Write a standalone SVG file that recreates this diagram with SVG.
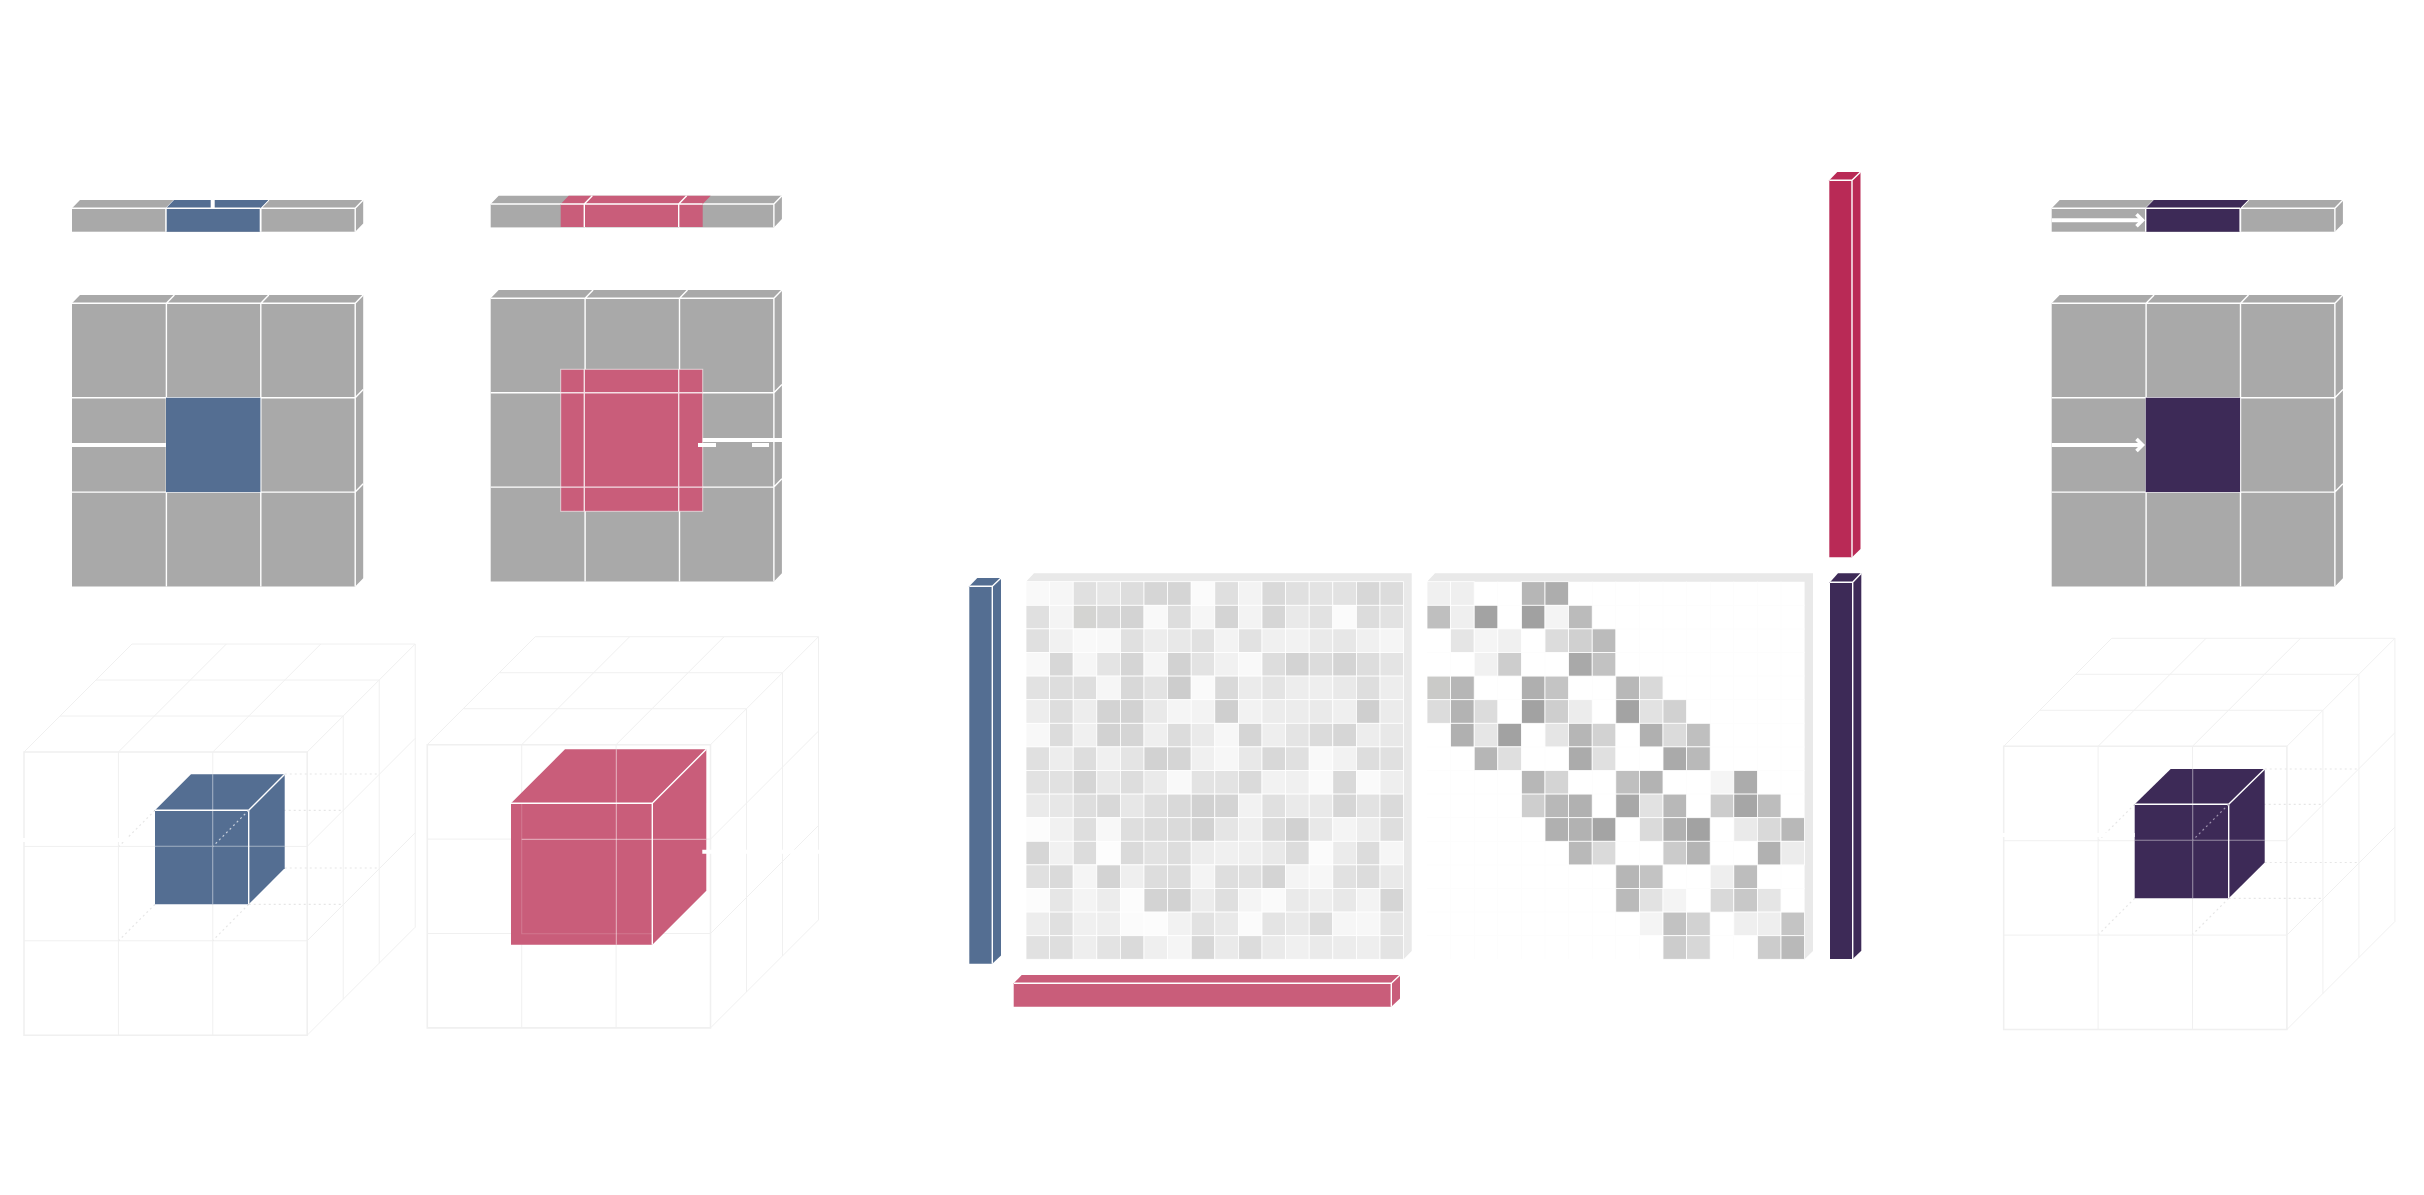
<svg xmlns="http://www.w3.org/2000/svg" width="2424" height="1195" viewBox="0 0 2424 1195">
<style>
.g{fill:#a9a9a9}.w{stroke:#fff;stroke-width:1.4;fill:none}.e{stroke:#f0f0f0;stroke-width:1;fill:none}.t{stroke:#f0f0f0;stroke-width:1.6;fill:none}
.d{stroke:#e6e6e6;stroke-width:1.2;fill:none;stroke-dasharray:2 3}
.c{width:23.6px;height:23.6px;stroke:#fff;stroke-width:.8}.s{fill:#e9e9e9}
.o{stroke:#fff;stroke-width:1;fill:none;stroke-opacity:.55}.o2{stroke:#fff;stroke-width:1.1;fill:none;stroke-opacity:.45}.o3{stroke:#fff;stroke-width:1.1;fill:none;stroke-opacity:.16}
.bl{fill:#546e92}.pk{fill:#c95d7a}.dk{fill:#3d2a57}.cr{fill:#b92a56}
.wl{stroke:#fff;stroke-width:4;fill:none}
</style>
<defs>
<marker id="chev" markerUnits="userSpaceOnUse" markerWidth="12" markerHeight="18" refX="8" refY="8" orient="auto"><path d="M1.500 2L7.500 8L1.500 14" fill="none" stroke="#fff" stroke-width="3.600"/></marker>
<g id="grid3"><rect class="g" width="283.2" height="283.2"/><path class="g" d="M0 0L8 -8.300H291.200L283.200 0ZM283.200 0L291.200 -8.300V274.900L283.200 283.200Z"/><path class="w" d="M0 0H283.200V283.200M94.400 0V283.200M188.800 0V283.200M0 94.400H283.200M0 188.800H283.200M94.400 0L102.400 -8.300M188.800 0L196.800 -8.300M283.200 0L291.200 -8.300M283.200 94.400L291.200 86.100M283.200 188.800L291.200 180.500"/></g>
<g id="bar3"><rect class="g" width="283.2" height="23.4"/><path class="g" d="M0 0L8 -8.300H291.200L283.200 0ZM283.200 0L291.200 -8.300V15.100L283.200 23.400Z"/><path class="w" d="M0 0H283.200V23.400M94.400 0V23.400M188.800 0V23.400M94.400 0L102.400 -8.300M188.800 0L196.800 -8.300M283.200 0L291.200 -8.300"/></g>
<g id="wire"><path class="e" d="M94.400 0V283.200M188.800 0V283.200M0 94.400H283.200M0 188.800H283.200M94.400 0L202.400 -108M188.800 0L296.800 -108M283.200 94.400L391.200 -13.600M283.200 188.800L391.200 80.800M0 0L108 -108M283.200 0L391.200 -108M283.200 283.200L391.200 175.200M108 -108H391.200V175.200M72 -72H355.200V211.200M36 -36H319.200V247.200"/><path class="t" d="M0 0H283.200V283.200H0Z"/></g>
</defs>
<rect width="2424" height="1195" fill="#fff"/>

<g id="flat-blue">
<use href="#bar3" x="72" y="208.3"/>
<path class="bl" d="M166 208.300L174 200H268.400L260.400 208.300ZM166 208.300H260.400V231.700H166Z"/>
<path class="w" d="M166 208.300H260.400M166 208.300V231.700M260.400 208.300V231.700"/>
<use href="#grid3" x="72" y="303.3"/>
<rect class="bl" x="166" y="397.7" width="94.4" height="94.4"/>
</g>
<g id="flat-pink">
<use href="#bar3" x="490.7" y="204"/>
<path class="pk" d="M560.700 204L568.700 195.700H710.700L702.700 204ZM560.700 204H702.700V227H560.700Z"/>
<path class="w" d="M560.700 204H702.700M584.300 204V227M678.700 204V227M584.300 204L592.300 195.700M678.700 204L686.700 195.700"/>
<use href="#grid3" x="490.7" y="298.3"/>
<rect class="pk" x="560.7" y="369.3" width="142" height="142" stroke="#fff" stroke-opacity=".6"/>
<path class="w" d="M584.300 369.300V511.300M678.700 369.300V511.300M560.700 392.700H702.700M560.700 487.100H702.700" stroke-opacity=".8"/>
</g>
<g id="flat-purple">
<use href="#bar3" x="2051.7" y="208.3"/>
<path class="dk" d="M2145.700 208.300L2153.700 200H2248.100L2240.100 208.300ZM2145.700 208.300H2240.100V231.700H2145.700Z"/>
<path class="w" d="M2145.700 208.300H2240.100M2145.700 208.300V231.700M2240.100 208.300V231.700"/>
<use href="#grid3" x="2051.7" y="303.3"/>
<rect class="dk" x="2145.7" y="397.7" width="94.4" height="94.4"/>
</g>

<g id="cube-blue">
<use href="#wire" x="24" y="752"/>
<path class="d" d="M284.700 774H379M248.700 810.300H343M284.700 868H379M248.700 904.300H343M155 810.300L119 846.300M155 904.300L119 940.300M248.700 904.300L213 940.300"/>
<path class="bl" d="M155 810.300L191 774.300H284.700V868.300L248.700 904.300H155Z"/>
<path class="w" d="M155 810.300H248.700V904.300M248.700 810.300L284.700 774.300"/>
<path class="o2" d="M212.700 774.300V904.300M155 846.300H284.700"/>
<path d="M248.700 810.300L213 846.300" fill="none" stroke="#c8d0dc" stroke-width="1.2" stroke-dasharray="2 3"/>
</g>
<g id="cube-pink">
<use href="#wire" x="427.3" y="744.7"/>
<path class="pk" d="M511 803.300L565 749.300H706.300V890.700L652.300 944.700H511Z"/>
<path class="w" d="M511 803.300H652.300V944.700M652.300 803.300L706.300 749.300"/>
<path class="o" d="M616.300 749.300V944.700M521.700 839.300H706.300"/>
<path class="o3" d="M521.700 803.300V933.700H652.300"/>
</g>
<g id="cube-purple">
<use href="#wire" x="2003.7" y="746.3"/>
<path class="d" d="M2264.700 769H2359M2228.700 804.300H2323M2264.700 862.500H2359M2228.700 898.300H2323M2134.700 804.300L2098.700 840.300M2134.700 898.300L2098.700 934.300M2228.700 898.300L2192.700 934.300"/>
<path class="dk" d="M2134.700 804.300L2170.700 769H2264.700V862.500L2228.700 898.300H2134.700Z"/>
<path class="w" d="M2134.700 804.300H2228.700V898.300M2228.700 804.300L2264.700 769"/>
<path class="o2" d="M2192.700 769V898.300M2134.700 840.300H2264.700"/>
<path d="M2228.700 804.300L2192.700 840.300" fill="none" stroke="#9c90ac" stroke-width="1.2" stroke-dasharray="2 3"/>
</g>

<g id="vector-blue"><path class="bl" d="M969.300 586.300L977.300 578H1001V955.400L992.300 963.700H969.300Z"/><path class="w" d="M969.300 586.300H992.300V963.700M992.300 586.300L1001 578"/></g>
<g id="vector-pink"><path class="pk" d="M1013.700 983.300L1021.700 975H1400V998.400L1391.300 1006.700H1013.700Z"/><path class="w" d="M1013.700 983.300H1391.300V1006.700M1391.300 983.300L1400 975"/></g>
<g id="vector-crimson"><path class="cr" d="M1829.300 180.300L1837.300 172H1860.500V549L1852 557.300H1829.300Z"/><path class="w" d="M1829.300 180.300H1852V557.300M1852 180.300L1860.500 172"/></g>
<g id="vector-purple"><path class="dk" d="M1830 582.300L1838 573.300H1861.300V950.700L1852.700 959H1830Z"/><path class="w" d="M1830 582.300H1852.700V959M1852.700 582.300L1861.300 573.300"/></g>

<g id="matrix-dense">
<path class="s" d="M1026 581.700L1034 573.300H1411.700V951L1403.600 959.300V581.700Z"/>
<g transform="translate(0 581.7)"><rect class="c" x="1026" fill="#f9f9f9"/><rect class="c" x="1049.6" fill="#f6f6f6"/><rect class="c" x="1073.2" fill="#e0e0e0"/><rect class="c" x="1096.8" fill="#e6e6e6"/><rect class="c" x="1120.4" fill="#ddd"/><rect class="c" x="1144" fill="#d6d6d6"/><rect class="c" x="1167.6" fill="#d5d5d5"/><rect class="c" x="1191.2" fill="#fbfbfb"/><rect class="c" x="1214.8" fill="#dfdfdf"/><rect class="c" x="1238.4" fill="#f3f3f3"/><rect class="c" x="1262" fill="#d9d9d9"/><rect class="c" x="1285.6" fill="#e0e0e0"/><rect class="c" x="1309.2" fill="#e3e3e3"/><rect class="c" x="1332.8" fill="#e2e2e2"/><rect class="c" x="1356.4" fill="#d7d7d7"/><rect class="c" x="1380" fill="#dcdcdc"/></g>
<g transform="translate(0 605.3)"><rect class="c" x="1026" fill="#e0e0e0"/><rect class="c" x="1049.6" fill="#f4f4f4"/><rect class="c" x="1073.2" fill="#d4d4d2"/><rect class="c" x="1096.8" fill="#d8d8d8"/><rect class="c" x="1120.4" fill="#d3d3d3"/><rect class="c" x="1144" fill="#f9f9f9"/><rect class="c" x="1167.6" fill="#ddd"/><rect class="c" x="1191.2" fill="#f6f6f6"/><rect class="c" x="1214.8" fill="#d4d4d4"/><rect class="c" x="1238.4" fill="#f3f3f3"/><rect class="c" x="1262" fill="#d6d6d6"/><rect class="c" x="1285.6" fill="#e9e9e9"/><rect class="c" x="1309.2" fill="#e2e2e2"/><rect class="c" x="1332.8" fill="#fbfbfb"/><rect class="c" x="1356.4" fill="#dcdcdc"/><rect class="c" x="1380" fill="#e2e2e2"/></g>
<g transform="translate(0 628.9)"><rect class="c" x="1026" fill="#e0e0e0"/><rect class="c" x="1049.6" fill="#f1f1f1"/><rect class="c" x="1073.2" fill="#f9f9f9"/><rect class="c" x="1096.8" fill="#f8f8f8"/><rect class="c" x="1120.4" fill="#e0e0e0"/><rect class="c" x="1144" fill="#ededed"/><rect class="c" x="1167.6" fill="#e8e8e8"/><rect class="c" x="1191.2" fill="#e1e1e1"/><rect class="c" x="1214.8" fill="#f3f3f3"/><rect class="c" x="1238.4" fill="#e2e2e2"/><rect class="c" x="1262" fill="#f0f0f0"/><rect class="c" x="1285.6" fill="#f2f2f2"/><rect class="c" x="1309.2" fill="#eaeaea"/><rect class="c" x="1332.8" fill="#e7e7e7"/><rect class="c" x="1356.4" fill="#f0f0f0"/><rect class="c" x="1380" fill="#f5f5f5"/></g>
<g transform="translate(0 652.5)"><rect class="c" x="1026" fill="#f8f8f8"/><rect class="c" x="1049.6" fill="#d7d7d7"/><rect class="c" x="1073.2" fill="#f6f6f6"/><rect class="c" x="1096.8" fill="#e4e4e4"/><rect class="c" x="1120.4" fill="#d5d5d5"/><rect class="c" x="1144" fill="#f5f5f5"/><rect class="c" x="1167.6" fill="#d2d2d2"/><rect class="c" x="1191.2" fill="#e3e3e3"/><rect class="c" x="1214.8" fill="#f1f1f1"/><rect class="c" x="1238.4" fill="#f9f9f9"/><rect class="c" x="1262" fill="#ddd"/><rect class="c" x="1285.6" fill="#d3d3d3"/><rect class="c" x="1309.2" fill="#dcdcdc"/><rect class="c" x="1332.8" fill="#d4d4d4"/><rect class="c" x="1356.4" fill="#ddd"/><rect class="c" x="1380" fill="#e4e4e4"/></g>
<g transform="translate(0 676.1)"><rect class="c" x="1026" fill="#e2e2e2"/><rect class="c" x="1049.6" fill="#ddd"/><rect class="c" x="1073.2" fill="#dedede"/><rect class="c" x="1096.8" fill="#f6f6f6"/><rect class="c" x="1120.4" fill="#d8d8d8"/><rect class="c" x="1144" fill="#e3e3e3"/><rect class="c" x="1167.6" fill="#cdcdcd"/><rect class="c" x="1191.2" fill="#fafafa"/><rect class="c" x="1214.8" fill="#d9d9d9"/><rect class="c" x="1238.4" fill="#ebebeb"/><rect class="c" x="1262" fill="#e4e4e4"/><rect class="c" x="1285.6" fill="#ededed"/><rect class="c" x="1309.2" fill="#eee"/><rect class="c" x="1332.8" fill="#e9e9e9"/><rect class="c" x="1356.4" fill="#dedede"/><rect class="c" x="1380" fill="#ededed"/></g>
<g transform="translate(0 699.7)"><rect class="c" x="1026" fill="#ededed"/><rect class="c" x="1049.6" fill="#ddd"/><rect class="c" x="1073.2" fill="#ededed"/><rect class="c" x="1096.8" fill="#d3d3d3"/><rect class="c" x="1120.4" fill="#d2d2d2"/><rect class="c" x="1144" fill="#e9e9e9"/><rect class="c" x="1167.6" fill="#f5f5f5"/><rect class="c" x="1191.2" fill="#f3f3f3"/><rect class="c" x="1214.8" fill="#cfcfcf"/><rect class="c" x="1238.4" fill="#f2f2f2"/><rect class="c" x="1262" fill="#ececec"/><rect class="c" x="1285.6" fill="#ececec"/><rect class="c" x="1309.2" fill="#eaeaea"/><rect class="c" x="1332.8" fill="#efefef"/><rect class="c" x="1356.4" fill="#cfcfcf"/><rect class="c" x="1380" fill="#ebebeb"/></g>
<g transform="translate(0 723.3)"><rect class="c" x="1026" fill="#f8f8f8"/><rect class="c" x="1049.6" fill="#dcdcdc"/><rect class="c" x="1073.2" fill="#f0f0f0"/><rect class="c" x="1096.8" fill="#d2d2d2"/><rect class="c" x="1120.4" fill="#d5d5d5"/><rect class="c" x="1144" fill="#efefef"/><rect class="c" x="1167.6" fill="#dcdcdc"/><rect class="c" x="1191.2" fill="#eaeaea"/><rect class="c" x="1214.8" fill="#f7f7f7"/><rect class="c" x="1238.4" fill="#d5d5d5"/><rect class="c" x="1262" fill="#eee"/><rect class="c" x="1285.6" fill="#e4e4e4"/><rect class="c" x="1309.2" fill="#dbdbdb"/><rect class="c" x="1332.8" fill="#d6d6d6"/><rect class="c" x="1356.4" fill="#ededed"/><rect class="c" x="1380" fill="#e8e8e8"/></g>
<g transform="translate(0 746.9)"><rect class="c" x="1026" fill="#e0e0e0"/><rect class="c" x="1049.6" fill="#ededed"/><rect class="c" x="1073.2" fill="#ddd"/><rect class="c" x="1096.8" fill="#f0f0f0"/><rect class="c" x="1120.4" fill="#e4e4e4"/><rect class="c" x="1144" fill="#d2d2d2"/><rect class="c" x="1167.6" fill="#d5d5d5"/><rect class="c" x="1191.2" fill="#f0f0f0"/><rect class="c" x="1214.8" fill="#f7f7f7"/><rect class="c" x="1238.4" fill="#e8e8e8"/><rect class="c" x="1262" fill="#d8d8d8"/><rect class="c" x="1285.6" fill="#e0e0e0"/><rect class="c" x="1309.2" fill="#f9f9f9"/><rect class="c" x="1332.8" fill="#f2f2f2"/><rect class="c" x="1356.4" fill="#ddd"/><rect class="c" x="1380" fill="#e0e0e0"/></g>
<g transform="translate(0 770.5)"><rect class="c" x="1026" fill="#e2e2e2"/><rect class="c" x="1049.6" fill="#e1e1e1"/><rect class="c" x="1073.2" fill="#d5d5d5"/><rect class="c" x="1096.8" fill="#e8e8e8"/><rect class="c" x="1120.4" fill="#ddd"/><rect class="c" x="1144" fill="#eaeaea"/><rect class="c" x="1167.6" fill="#f9f9f9"/><rect class="c" x="1191.2" fill="#e3e3e3"/><rect class="c" x="1214.8" fill="#e3e3e3"/><rect class="c" x="1238.4" fill="#dadada"/><rect class="c" x="1262" fill="#f2f2f2"/><rect class="c" x="1285.6" fill="#f0f0f0"/><rect class="c" x="1309.2" fill="#fafafa"/><rect class="c" x="1332.8" fill="#d9d9d9"/><rect class="c" x="1356.4" fill="#fafafa"/><rect class="c" x="1380" fill="#eee"/></g>
<g transform="translate(0 794.1)"><rect class="c" x="1026" fill="#eaeaea"/><rect class="c" x="1049.6" fill="#e7e7e7"/><rect class="c" x="1073.2" fill="#dedede"/><rect class="c" x="1096.8" fill="#d8d8d8"/><rect class="c" x="1120.4" fill="#e7e7e7"/><rect class="c" x="1144" fill="#dedede"/><rect class="c" x="1167.6" fill="#d9d9d9"/><rect class="c" x="1191.2" fill="#d1d1d1"/><rect class="c" x="1214.8" fill="#d4d4d4"/><rect class="c" x="1238.4" fill="#f2f2f2"/><rect class="c" x="1262" fill="#e0e0e0"/><rect class="c" x="1285.6" fill="#eaeaea"/><rect class="c" x="1309.2" fill="#e9e9e9"/><rect class="c" x="1332.8" fill="#d6d6d6"/><rect class="c" x="1356.4" fill="#e2e2e2"/><rect class="c" x="1380" fill="#dadada"/></g>
<g transform="translate(0 817.7)"><rect class="c" x="1026" fill="#fcfcfc"/><rect class="c" x="1049.6" fill="#f1f1f1"/><rect class="c" x="1073.2" fill="#dedede"/><rect class="c" x="1096.8" fill="#f8f8f8"/><rect class="c" x="1120.4" fill="#dedede"/><rect class="c" x="1144" fill="#dcdcdc"/><rect class="c" x="1167.6" fill="#dadada"/><rect class="c" x="1191.2" fill="#d2d2d2"/><rect class="c" x="1214.8" fill="#e5e5e5"/><rect class="c" x="1238.4" fill="#eee"/><rect class="c" x="1262" fill="#dbdbdb"/><rect class="c" x="1285.6" fill="#d1d1d1"/><rect class="c" x="1309.2" fill="#e8e8e8"/><rect class="c" x="1332.8" fill="#f4f4f4"/><rect class="c" x="1356.4" fill="#ededed"/><rect class="c" x="1380" fill="#dedede"/></g>
<g transform="translate(0 841.3)"><rect class="c" x="1026" fill="#d6d6d6"/><rect class="c" x="1049.6" fill="#f1f1f1"/><rect class="c" x="1073.2" fill="#dcdcdc"/><rect class="c" x="1096.8" fill="#fdfdfd"/><rect class="c" x="1120.4" fill="#dadada"/><rect class="c" x="1144" fill="#e2e2e2"/><rect class="c" x="1167.6" fill="#ddd"/><rect class="c" x="1191.2" fill="#ededed"/><rect class="c" x="1214.8" fill="#f0f0f0"/><rect class="c" x="1238.4" fill="#efefef"/><rect class="c" x="1262" fill="#e9e9e9"/><rect class="c" x="1285.6" fill="#dcdcdc"/><rect class="c" x="1309.2" fill="#fbfbfb"/><rect class="c" x="1332.8" fill="#ebebeb"/><rect class="c" x="1356.4" fill="#dcdcdc"/><rect class="c" x="1380" fill="#f6f6f6"/></g>
<g transform="translate(0 864.9)"><rect class="c" x="1026" fill="#e0e0e0"/><rect class="c" x="1049.6" fill="#dadada"/><rect class="c" x="1073.2" fill="#f5f5f5"/><rect class="c" x="1096.8" fill="#d3d3d3"/><rect class="c" x="1120.4" fill="#efefef"/><rect class="c" x="1144" fill="#ddd"/><rect class="c" x="1167.6" fill="#dcdcdc"/><rect class="c" x="1191.2" fill="#f4f4f4"/><rect class="c" x="1214.8" fill="#dedede"/><rect class="c" x="1238.4" fill="#e0e0e0"/><rect class="c" x="1262" fill="#d4d4d4"/><rect class="c" x="1285.6" fill="#f4f4f4"/><rect class="c" x="1309.2" fill="#f7f7f7"/><rect class="c" x="1332.8" fill="#e1e1e1"/><rect class="c" x="1356.4" fill="#dcdcdc"/><rect class="c" x="1380" fill="#e9e9e9"/></g>
<g transform="translate(0 888.5)"><rect class="c" x="1026" fill="#fcfcfc"/><rect class="c" x="1049.6" fill="#e6e6e6"/><rect class="c" x="1073.2" fill="#f4f4f4"/><rect class="c" x="1096.8" fill="#ececec"/><rect class="c" x="1120.4" fill="#fcfcfc"/><rect class="c" x="1144" fill="#d3d3d3"/><rect class="c" x="1167.6" fill="#d2d2d2"/><rect class="c" x="1191.2" fill="#ececec"/><rect class="c" x="1214.8" fill="#dfdfdf"/><rect class="c" x="1238.4" fill="#f4f4f4"/><rect class="c" x="1262" fill="#fafafa"/><rect class="c" x="1285.6" fill="#eaeaea"/><rect class="c" x="1309.2" fill="#eee"/><rect class="c" x="1332.8" fill="#e8e8e8"/><rect class="c" x="1356.4" fill="#f3f3f3"/><rect class="c" x="1380" fill="#d5d5d5"/></g>
<g transform="translate(0 912.1)"><rect class="c" x="1026" fill="#ededed"/><rect class="c" x="1049.6" fill="#e0e0e0"/><rect class="c" x="1073.2" fill="#f0f0f0"/><rect class="c" x="1096.8" fill="#eee"/><rect class="c" x="1120.4" fill="#fbfbfb"/><rect class="c" x="1144" fill="#fcfcfc"/><rect class="c" x="1167.6" fill="#f2f2f2"/><rect class="c" x="1191.2" fill="#e2e2e2"/><rect class="c" x="1214.8" fill="#e9e9e9"/><rect class="c" x="1238.4" fill="#fbfbfb"/><rect class="c" x="1262" fill="#e4e4e4"/><rect class="c" x="1285.6" fill="#e9e9e9"/><rect class="c" x="1309.2" fill="#dcdcdc"/><rect class="c" x="1332.8" fill="#f6f6f6"/><rect class="c" x="1356.4" fill="#f7f7f7"/><rect class="c" x="1380" fill="#e6e6e6"/></g>
<g transform="translate(0 935.7)"><rect class="c" x="1026" fill="#e1e1e1"/><rect class="c" x="1049.6" fill="#dedede"/><rect class="c" x="1073.2" fill="#eee"/><rect class="c" x="1096.8" fill="#e3e3e3"/><rect class="c" x="1120.4" fill="#dadada"/><rect class="c" x="1144" fill="#efefef"/><rect class="c" x="1167.6" fill="#f5f5f5"/><rect class="c" x="1191.2" fill="#d7d7d7"/><rect class="c" x="1214.8" fill="#eaeaea"/><rect class="c" x="1238.4" fill="#dcdcdc"/><rect class="c" x="1262" fill="#eaeaea"/><rect class="c" x="1285.6" fill="#f0f0f0"/><rect class="c" x="1309.2" fill="#eaeaea"/><rect class="c" x="1332.8" fill="#ececec"/><rect class="c" x="1356.4" fill="#eee"/><rect class="c" x="1380" fill="#e3e3e3"/></g>
</g>

<g id="matrix-sparse">
<path class="s" d="M1427 581.700L1435 573.300H1813V951L1804.600 959.300V581.700Z"/>
<path fill="none" stroke="#fdfdfd" stroke-width="1" d="M1450.600 581.700V959.300M1474.200 581.700V959.300M1497.800 581.700V959.300M1521.400 581.700V959.300M1545 581.700V959.300M1568.600 581.700V959.300M1592.200 581.700V959.300M1615.800 581.700V959.300M1639.400 581.700V959.300M1663 581.700V959.300M1686.600 581.700V959.300M1710.200 581.700V959.300M1733.800 581.700V959.300M1757.400 581.700V959.300M1781 581.700V959.300M1427 605.300H1804.600M1427 628.900H1804.600M1427 652.500H1804.600M1427 676.100H1804.600M1427 699.700H1804.600M1427 723.300H1804.600M1427 746.900H1804.600M1427 770.500H1804.600M1427 794.100H1804.600M1427 817.700H1804.600M1427 841.300H1804.600M1427 864.900H1804.600M1427 888.500H1804.600M1427 912.100H1804.600M1427 935.700H1804.600"/>
<g transform="translate(0 581.7)"><rect class="c" x="1427" fill="#f0f0f0"/><rect class="c" x="1450.6" fill="#efefef"/><rect class="c" x="1521.4" fill="#b6b6b6"/><rect class="c" x="1545" fill="#adadad"/></g>
<g transform="translate(0 605.3)"><rect class="c" x="1427" fill="#bfbfbf"/><rect class="c" x="1450.6" fill="#efefef"/><rect class="c" x="1474.2" fill="#a3a3a3"/><rect class="c" x="1521.4" fill="#a1a1a1"/><rect class="c" x="1545" fill="#f4f4f4"/><rect class="c" x="1568.6" fill="#bbb"/></g>
<g transform="translate(0 628.9)"><rect class="c" x="1450.6" fill="#e5e5e5"/><rect class="c" x="1474.2" fill="#f5f5f5"/><rect class="c" x="1497.8" fill="#f0f0f0"/><rect class="c" x="1545" fill="#dcdcdc"/><rect class="c" x="1568.6" fill="#d0d0d0"/><rect class="c" x="1592.2" fill="#bbb"/></g>
<g transform="translate(0 652.5)"><rect class="c" x="1474.2" fill="#f1f1f1"/><rect class="c" x="1497.8" fill="#cdcdcd"/><rect class="c" x="1568.6" fill="#a9a9a9"/><rect class="c" x="1592.2" fill="#c2c2c2"/></g>
<g transform="translate(0 676.1)"><rect class="c" x="1427" fill="#cacac8"/><rect class="c" x="1450.6" fill="#b6b6b6"/><rect class="c" x="1521.4" fill="#afafaf"/><rect class="c" x="1545" fill="#c4c4c4"/><rect class="c" x="1615.8" fill="#b8b8b8"/><rect class="c" x="1639.4" fill="#d9d9d9"/></g>
<g transform="translate(0 699.7)"><rect class="c" x="1427" fill="#dcdcdc"/><rect class="c" x="1450.6" fill="#b3b3b3"/><rect class="c" x="1474.2" fill="#dcdcdc"/><rect class="c" x="1521.4" fill="#a2a2a2"/><rect class="c" x="1545" fill="#cecece"/><rect class="c" x="1568.6" fill="#ececec"/><rect class="c" x="1615.8" fill="#a3a3a3"/><rect class="c" x="1639.4" fill="#e2e2e2"/><rect class="c" x="1663" fill="#d1d1d1"/></g>
<g transform="translate(0 723.3)"><rect class="c" x="1450.6" fill="#b0b0b0"/><rect class="c" x="1474.2" fill="#e6e6e6"/><rect class="c" x="1497.8" fill="#a2a2a2"/><rect class="c" x="1545" fill="#e5e5e5"/><rect class="c" x="1568.6" fill="#b6b6b6"/><rect class="c" x="1592.2" fill="#d2d2d2"/><rect class="c" x="1639.4" fill="#b0b0b0"/><rect class="c" x="1663" fill="#dbdbdb"/><rect class="c" x="1686.6" fill="#bfbfbf"/></g>
<g transform="translate(0 746.9)"><rect class="c" x="1474.2" fill="#b6b6b6"/><rect class="c" x="1497.8" fill="#dfdfdf"/><rect class="c" x="1568.6" fill="#ababab"/><rect class="c" x="1592.2" fill="#e0e0e0"/><rect class="c" x="1663" fill="#aaa"/><rect class="c" x="1686.6" fill="#b9b9b9"/></g>
<g transform="translate(0 770.5)"><rect class="c" x="1521.4" fill="#b7b7b7"/><rect class="c" x="1545" fill="#d4d4d4"/><rect class="c" x="1615.8" fill="#bfbfbf"/><rect class="c" x="1639.4" fill="#b3b3b3"/><rect class="c" x="1710.2" fill="#f5f5f5"/><rect class="c" x="1733.8" fill="#acacac"/></g>
<g transform="translate(0 794.1)"><rect class="c" x="1521.4" fill="#cecece"/><rect class="c" x="1545" fill="#b8b8b8"/><rect class="c" x="1568.6" fill="#b1b1b1"/><rect class="c" x="1615.8" fill="#a8a8a8"/><rect class="c" x="1639.4" fill="#e2e2e2"/><rect class="c" x="1663" fill="#b8b8b8"/><rect class="c" x="1710.2" fill="#ccc"/><rect class="c" x="1733.8" fill="#a6a6a6"/><rect class="c" x="1757.4" fill="#bdbdbd"/></g>
<g transform="translate(0 817.7)"><rect class="c" x="1545" fill="#b0b0b0"/><rect class="c" x="1568.6" fill="#b2b2b2"/><rect class="c" x="1592.2" fill="#a4a4a4"/><rect class="c" x="1639.4" fill="#dadada"/><rect class="c" x="1663" fill="#b1b1b1"/><rect class="c" x="1686.6" fill="#a2a2a2"/><rect class="c" x="1733.8" fill="#eaeaea"/><rect class="c" x="1757.4" fill="#d9d9d9"/><rect class="c" x="1781" fill="#b8b8b8"/></g>
<g transform="translate(0 841.3)"><rect class="c" x="1568.6" fill="#b9b9b9"/><rect class="c" x="1592.2" fill="#dadada"/><rect class="c" x="1663" fill="#cbcbcb"/><rect class="c" x="1686.6" fill="#b4b4b4"/><rect class="c" x="1757.4" fill="#b1b1b1"/><rect class="c" x="1781" fill="#ececec"/></g>
<g transform="translate(0 864.9)"><rect class="c" x="1615.8" fill="#b6b6b6"/><rect class="c" x="1639.4" fill="#c3c3c3"/><rect class="c" x="1710.2" fill="#eee"/><rect class="c" x="1733.8" fill="#bdbdbd"/></g>
<g transform="translate(0 888.5)"><rect class="c" x="1615.8" fill="#bababa"/><rect class="c" x="1639.4" fill="#e2e2e2"/><rect class="c" x="1663" fill="#f4f4f4"/><rect class="c" x="1710.2" fill="#d9d9d9"/><rect class="c" x="1733.8" fill="#c8c8c8"/><rect class="c" x="1757.4" fill="#e5e5e5"/></g>
<g transform="translate(0 912.1)"><rect class="c" x="1639.4" fill="#f4f4f4"/><rect class="c" x="1663" fill="#c2c2c2"/><rect class="c" x="1686.6" fill="#d2d2d2"/><rect class="c" x="1733.8" fill="#efefef"/><rect class="c" x="1757.4" fill="#eee"/><rect class="c" x="1781" fill="#c4c4c4"/></g>
<g transform="translate(0 935.7)"><rect class="c" x="1663" fill="#ccc"/><rect class="c" x="1686.6" fill="#d7d7d7"/><rect class="c" x="1757.4" fill="#ccc"/><rect class="c" x="1781" fill="#b9b9b9"/></g>
</g>

<g id="connectors">
<path class="wl" d="M72 445H166M212.700 200V208.300M22 840H155"/>
<path class="wl" d="M702.700 440H782M698 445H716M752 445H769M702.300 851.700H820"/>
<path class="wl" d="M2051.700 445H2143" marker-end="url(#chev)"/>
<path class="wl" d="M2051.700 220.300H2143" marker-end="url(#chev)"/>
<path class="wl" d="M2001.700 835H2134.700"/>
</g>
</svg>
